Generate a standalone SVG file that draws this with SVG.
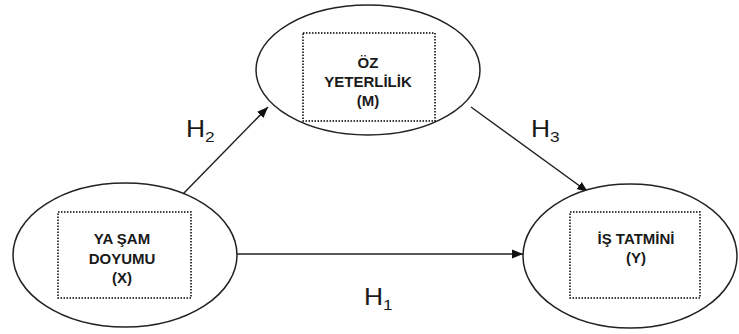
<svg xmlns="http://www.w3.org/2000/svg" width="739" height="334" viewBox="0 0 739 334">
<style>
.ell{fill:#fff;stroke:#222;stroke-width:1.5}
.box{fill:none;stroke:#000;stroke-width:1.5;stroke-dasharray:1.5 1.5}
.t{font-family:"Liberation Sans",Arial,sans-serif;font-weight:bold;font-size:15px;fill:#1a1a1a;text-anchor:middle}
.h{font-family:"Liberation Sans",Arial,sans-serif;font-size:23px;fill:#1a1a1a}
.sub{font-size:15px}
.c{stroke:#222;stroke-width:1.5;fill:none;marker-end:url(#ah)}
</style>
<defs>
<marker id="ah" viewBox="0 0 10 10" refX="10" refY="5" markerWidth="11" markerHeight="11" markerUnits="userSpaceOnUse" orient="auto">
<path d="M0,1 L10,5 L0,9 Z" fill="#111"/>
</marker>
</defs>
<g id="connectors">
<line class="c" x1="183" y1="194" x2="268" y2="107"/>
<line class="c" x1="471" y1="107" x2="588" y2="192"/>
<line class="c" x1="237" y1="254" x2="523" y2="254"/>
</g>
<g id="node-x">
<ellipse class="ell" cx="125" cy="255" rx="112" ry="72"/>
<rect class="box" x="58" y="212" width="133" height="86"/>
<text class="t" x="122" y="244">YA ŞAM</text>
<text class="t" x="122" y="264">DOYUMU</text>
<text class="t" x="122" y="283">(X)</text>
</g>
<g id="node-m">
<ellipse class="ell" cx="368" cy="70" rx="112" ry="65"/>
<rect class="box" x="303" y="33" width="132" height="88"/>
<text class="t" x="368" y="68">ÖZ</text>
<text class="t" x="368" y="87">YETERLİLİK</text>
<text class="t" x="368" y="106">(M)</text>
</g>
<g id="node-y">
<ellipse class="ell" cx="630" cy="256" rx="107" ry="72"/>
<rect class="box" x="570" y="212" width="130" height="86"/>
<text class="t" x="636" y="244">İŞ TATMİNİ</text>
<text class="t" x="636" y="263">(Y)</text>
</g>
<g id="labels">
<text class="h" transform="translate(186,137) scale(1.15,1)">H<tspan class="sub" dy="5">2</tspan></text>
<text class="h" transform="translate(531,137) scale(1.15,1)">H<tspan class="sub" dy="5">3</tspan></text>
<text class="h" transform="translate(364,305) scale(1.15,1)">H<tspan class="sub" dy="5">1</tspan></text>
</g>
</svg>
